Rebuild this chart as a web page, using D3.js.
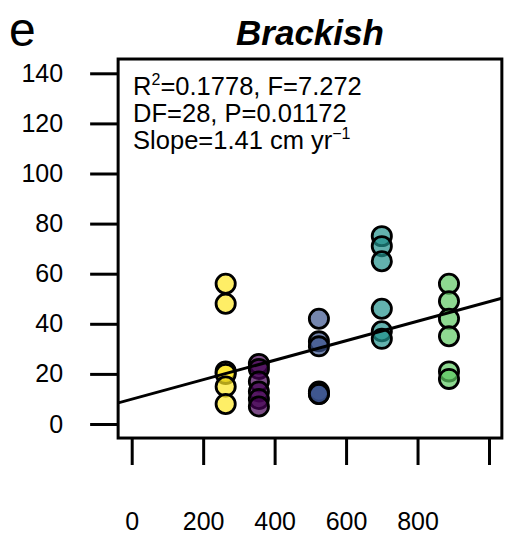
<!DOCTYPE html>
<html>
<head>
<meta charset="utf-8">
<script src="https://cdn.jsdelivr.net/npm/d3@7"></script>
<style>
  html, body { margin: 0; padding: 0; background: #fff; }
  svg { display: block; }
  text { font-family: "Liberation Sans", Arial, Helvetica, sans-serif; fill: #000; }
</style>
</head>
<body>
<svg id="chart" width="512" height="540"></svg>
<script>
// ---- data ----
const groupNames = ["G1", "G2", "G3", "G4", "G5"];
const groupX = [263, 356, 524, 700, 888];
const groupColors = ["#fde725", "#440154", "#3b528b", "#21918c", "#5ec962"];
const valuesG1 = [56, 48, 21, 20, 15, 8];
const valuesG2 = [24, 22, 17, 13, 10, 7];
const valuesG3 = [42, 33, 31, 13, 12, 12];
const valuesG4 = [75, 71, 65, 46, 37, 34];
const valuesG5 = [56, 49, 42, 35, 21, 18];
const groupValues = [valuesG1, valuesG2, valuesG3, valuesG4, valuesG5];
const fitIntercept = 9.9;
const fitSlope = 0.0389;
const xTicks = [0, 200, 400, 600, 800, 1000];
const xTickLabels = ["0", "200", "400", "600", "800", ""];
const yTicks = [0, 20, 40, 60, 80, 100, 120, 140];
const xLimits = [-38, 1036];
const yLimits = [-5.6, 145.7];
const panelLabel = "e";
const titleText = "Brackish";
const statLines = [
  [{t: "R"}, {t: "2", sup: true}, {t: "=0.1778, F=7.272"}],
  [{t: "DF=28, P=0.01172"}],
  [{t: "Slope=1.41 cm yr"}, {t: "\u22121", sup: true}]
];

// ---- build ----
const points = [];
groupValues.forEach((vals, gi) => vals.forEach(v => points.push({g: gi, x: groupX[gi], y: v})));

const svg = d3.select("#chart");
const x = d3.scaleLinear().domain([0, 1000]).range([131.7, 489]);
const y = d3.scaleLinear().domain([0, 140]).range([424, 73.3]);

const fLeft = x(xLimits[0]), fRight = x(xLimits[1]);
const fTop = y(yLimits[1]), fBottom = y(yLimits[0]);

svg.append("defs").append("clipPath").attr("id", "clip")
  .append("rect").attr("x", fLeft).attr("y", fTop).attr("width", fRight - fLeft).attr("height", fBottom - fTop);

// y axis
const yAxis = svg.append("g").attr("transform", `translate(${fLeft},0)`)
  .call(d3.axisLeft(y).tickValues(yTicks).tickSize(28).tickPadding(27).tickFormat(d3.format("d")));
yAxis.select(".domain").remove();
yAxis.selectAll(".tick line").attr("stroke", "#000").attr("stroke-width", 3);
yAxis.selectAll(".tick text").attr("font-size", 25).attr("font-family", "Liberation Sans, Arial, sans-serif");

// x axis
const xAxis = svg.append("g").attr("transform", `translate(0,${fBottom})`)
  .call(d3.axisBottom(x).tickValues(xTicks).tickSize(27).tickPadding(47).tickFormat((d, i) => xTickLabels[i]));
xAxis.select(".domain").remove();
xAxis.selectAll(".tick line").attr("stroke", "#000").attr("stroke-width", 3);
xAxis.selectAll(".tick text").attr("font-size", 25).attr("font-family", "Liberation Sans, Arial, sans-serif");

// points
const plot = svg.append("g").attr("clip-path", "url(#clip)");
plot.selectAll("circle").data(points).join("circle")
  .attr("cx", d => x(d.x)).attr("cy", d => y(d.y)).attr("r", 9.6)
  .attr("fill", d => groupColors[d.g]).attr("fill-opacity", 0.7)
  .attr("stroke", "#000").attr("stroke-width", 2.8);

// fit line
plot.append("line")
  .attr("x1", x(xLimits[0])).attr("y1", y(fitIntercept + fitSlope * xLimits[0]))
  .attr("x2", x(xLimits[1])).attr("y2", y(fitIntercept + fitSlope * xLimits[1]))
  .attr("stroke", "#000").attr("stroke-width", 3);

// frame
svg.append("rect").attr("x", fLeft).attr("y", fTop).attr("width", fRight - fLeft).attr("height", fBottom - fTop)
  .attr("fill", "none").attr("stroke", "#000").attr("stroke-width", 3);

// stats text
const st = svg.append("g");
statLines.forEach((parts, i) => {
  const t = st.append("text").attr("x", fLeft + 15).attr("y", fTop + 36 + i * 27).attr("font-size", 25.5);
  parts.forEach(p => {
    const ts = t.append("tspan").text(p.t);
    if (p.sup) ts.attr("font-size", 16).attr("baseline-shift", "60%");
  });
});

// title & panel label
svg.append("text").attr("x", (fLeft + fRight) / 2).attr("y", 45).attr("text-anchor", "middle")
  .attr("font-size", 35).attr("font-weight", "bold").attr("font-style", "italic").text(titleText);
svg.append("text").attr("x", 9).attr("y", 46).attr("font-size", 48).text(panelLabel);
</script>
</body>
</html>
